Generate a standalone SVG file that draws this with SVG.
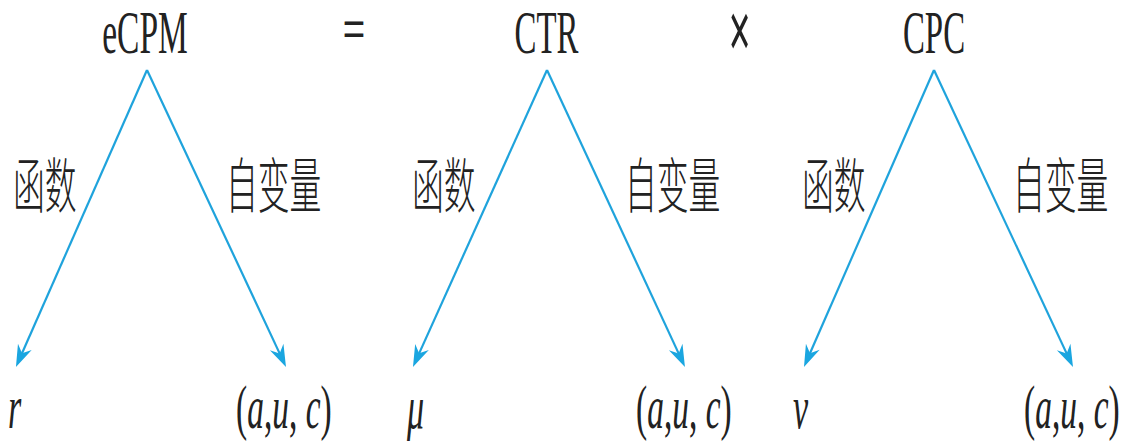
<svg xmlns="http://www.w3.org/2000/svg" width="1129" height="443" viewBox="0 0 1129 443">
<style>
.lat{font-family:"Liberation Serif","Times New Roman",serif;font-size:62px;fill:#222}
.it{font-style:italic}
.cjk{font-family:"Noto Sans CJK SC","Noto Sans",sans-serif;font-size:60px;font-weight:300;fill:#222}
.op{font-family:"Liberation Sans",Arial,sans-serif;fill:#222}
.arr{stroke:#1fa3dc;stroke-width:2.2;fill:none;marker-end:url(#ah)}
</style>
<defs>
<marker id="ah" viewBox="-23 -8 24 16" refX="-12" refY="0" markerWidth="24" markerHeight="16" markerUnits="userSpaceOnUse" orient="auto">
<path d="M0,0 L-22,-7.5 L-15,0 L-22,7.5 Z" fill="#1aa6e0"/>
</marker>
</defs>
<rect width="1129" height="443" fill="#fff"/>
<g id="connectors">
<line class="arr" x1="147" y1="70" x2="20.8" y2="356"/>
<line class="arr" x1="147" y1="70" x2="280.9" y2="356.1"/>
<line class="arr" x1="547" y1="70" x2="417.9" y2="356.1"/>
<line class="arr" x1="547" y1="70" x2="679.9" y2="356.1"/>
<line class="arr" x1="934" y1="70" x2="808.8" y2="356"/>
<line class="arr" x1="934" y1="70" x2="1067.9" y2="356.1"/>
</g>
<g id="ecpm"><text class="lat" text-anchor="middle" transform="translate(145,53) scale(0.54,1)">eCPM</text></g>
<g id="eq"><text class="op" font-size="48" text-anchor="middle" transform="translate(354,45) scale(0.8,1)">=</text></g>
<g id="ctr"><text class="lat" text-anchor="middle" transform="translate(546.5,53) scale(0.53,1)">CTR</text></g>
<g id="times"><text class="op" font-size="60" text-anchor="middle" transform="translate(739.5,57) scale(0.62,1.3)">×</text></g>
<g id="cpc"><text class="lat" text-anchor="middle" transform="translate(934,53) scale(0.53,1)">CPC</text></g>
<g id="labels">
<text class="cjk" transform="translate(13,208) scale(0.53,1)">函数</text>
<text class="cjk" transform="translate(226,208) scale(0.53,1)">自变量</text>
<text class="cjk" transform="translate(412,208) scale(0.53,1)">函数</text>
<text class="cjk" transform="translate(625,208) scale(0.53,1)">自变量</text>
<text class="cjk" transform="translate(802,208) scale(0.53,1)">函数</text>
<text class="cjk" transform="translate(1013,208) scale(0.53,1)">自变量</text>
</g>
<g id="r"><text class="lat it" transform="translate(8,428) scale(0.55,1)">r</text></g>
<g id="auc1"><text class="lat" transform="translate(236,428) scale(0.54,1)">(<tspan class="it">a</tspan>,<tspan class="it">u</tspan>, <tspan class="it">c</tspan>)</text></g>
<g id="mu"><text class="lat it" transform="translate(407,428) scale(0.55,1)">μ</text></g>
<g id="auc2"><text class="lat" transform="translate(636,428) scale(0.54,1)">(<tspan class="it">a</tspan>,<tspan class="it">u</tspan>, <tspan class="it">c</tspan>)</text></g>
<g id="v"><text class="lat it" transform="translate(793,428) scale(0.55,1)">v</text></g>
<g id="auc3"><text class="lat" transform="translate(1024,428) scale(0.54,1)">(<tspan class="it">a</tspan>,<tspan class="it">u</tspan>, <tspan class="it">c</tspan>)</text></g>
</svg>
